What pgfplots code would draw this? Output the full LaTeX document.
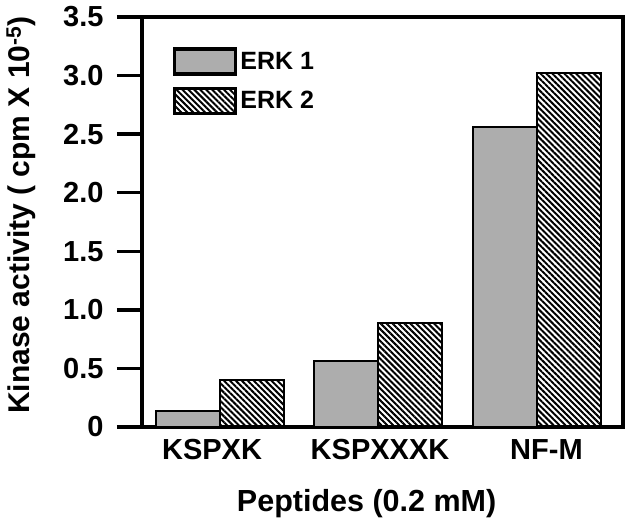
\documentclass[border=0pt]{standalone}
\usepackage{fontspec}
\setmainfont{Liberation Sans}
\usepackage{pgfplots}
\pgfplotsset{compat=1.18}
\usetikzlibrary{patterns.meta}
\definecolor{erkgray}{gray}{0.68}

\begin{document}
\begin{tikzpicture}
\begin{axis}[
name=ax,
scale only axis,
width=481pt,
height=410pt,
xmin=-0.492, xmax=2.543,
ymin=0, ymax=3.5,
ybar=0pt,
bar width=64pt,
axis line style={line width=4pt},
ytick={0,0.5,1,1.5,2,2.5,3,3.5},
yticklabels={0,0.5,1.0,1.5,2.0,2.5,3.0,3.5},
ytick pos=left,
ytick align=outside,
xtick align=inside,
major tick length=25pt,
ytick style={line width=3.5pt, black},
yticklabel style={xshift=-10pt},
xticklabel style={yshift=-9pt},
xtick={-0.05,1.01,2.06},
xticklabels={KSPXK,KSPXXXK,NF-M},
xtick style={draw=none},
ticklabel style={font=\fontsize{29}{34}\selectfont\bfseries},
/pgf/number format/assume math mode=true,
xlabel={Peptides (0.2 mM)},
ylabel={Kinase activity ( cpm X 10\textsuperscript{-5})},
xlabel style={at={(axis description cs:0.467,-0.2073)}, anchor=base,
  font=\fontsize{30.5}{36}\selectfont\bfseries},
ylabel style={at={(axis description cs:-0.233,0.517)}, anchor=base,
  font=\fontsize{30}{36}\selectfont\bfseries},
legend style={at={(axis description cs:0.064,0.927)}, anchor=north west,
  draw=none, fill=none, inner sep=0pt, row sep=11pt,
  font=\fontsize{25}{30}\selectfont\bfseries,
  nodes={inner sep=3pt}, cells={anchor=west}},
legend image code/.code={\draw[#1, line width=3.5pt] (0pt,-12.5pt) rectangle (61pt,12.5pt);},
]
\addplot[draw=black, line width=2pt, fill=erkgray] coordinates {(0,0.14) (1,0.56) (2,2.56)};
\addlegendentry{ERK 1}
\addplot[draw=black, line width=2pt, pattern={Lines[angle=-45,distance=4.2pt,line width=2pt]}] coordinates {(0,0.40) (1,0.89) (2,3.02)};
\addlegendentry{ERK 2}
\end{axis}
\pgfresetboundingbox
\path ([shift={(-142pt,-98pt)}]ax.south west) rectangle ([shift={(7pt,17pt)}]ax.north east);
\end{tikzpicture}
\end{document}
